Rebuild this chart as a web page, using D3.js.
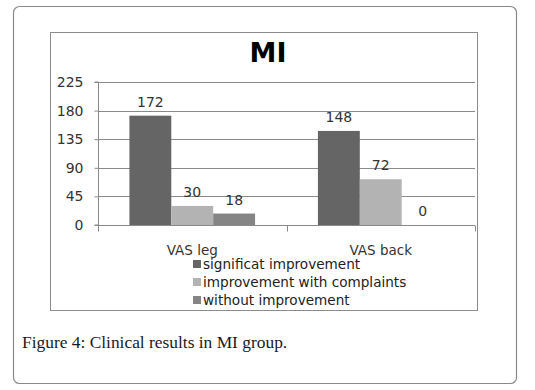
<!DOCTYPE html>
<html>
<head>
<meta charset="utf-8">
<script src="https://cdn.jsdelivr.net/npm/d3@7"></script>
<style>
  body { margin: 0; background: #fff; }
  svg { display: block; }
</style>
</head>
<body>
<svg id="chart" width="535" height="390"></svg>
<script>
const categories = ["VAS leg", "VAS back"];
const seriesNames = ["significat improvement", "improvement with complaints", "without improvement"];
const significant = [172, 148];
const withComplaints = [30, 72];
const without = [18, 0];
const yTicks = [0, 45, 90, 135, 180, 225];

const seriesValues = [significant, withComplaints, without];
const colors = ["#656565", "#b3b3b3", "#858585"];

const svg = d3.select("#chart");

// outer rounded frame
svg.append("rect")
    .attr("x", 13.5).attr("y", 6.5)
    .attr("width", 503).attr("height", 377)
    .attr("rx", 6)
    .attr("fill", "#fff")
    .attr("stroke", "#8a8a8a")
    .attr("stroke-width", 1.2);

// chart frame
svg.append("rect")
    .attr("x", 50.5).attr("y", 32.5)
    .attr("width", 427).attr("height", 278)
    .attr("fill", "#fff")
    .attr("stroke", "#8c8c8c");

svg.append("text")
    .attr("x", 268).attr("y", 62)
    .attr("text-anchor", "middle")
    .attr("font-family", "DejaVu Sans")
    .attr("font-weight", "bold")
    .attr("font-size", 27)
    .attr("fill", "#000")
    .text("MI");

const plotLeft = 98, plotRight = 475, plotTop = 82, plotBottom = 225;

const y = d3.scaleLinear().domain([0, 225]).range([plotBottom, plotTop]);
const x0 = d3.scaleBand().domain(categories).range([plotLeft, plotRight]);
const x1 = d3.scaleBand().domain(seriesNames).range([0, x0.bandwidth()]).paddingOuter(0.75);

// gridlines
svg.append("g")
    .selectAll("line")
    .data(yTicks.filter(d => d > 0))
    .join("line")
    .attr("x1", plotLeft).attr("x2", plotRight)
    .attr("y1", d => Math.round(y(d)) + 0.5)
    .attr("y2", d => Math.round(y(d)) + 0.5)
    .attr("stroke", "#8a8a8a");

// bars
const groups = svg.append("g")
    .selectAll("g")
    .data(categories)
    .join("g")
    .attr("transform", d => "translate(" + x0(d) + ",0)");

groups.selectAll("rect")
    .data((c, i) => seriesNames.map((s, j) => ({ s: s, v: seriesValues[j][i], j: j })))
    .join("rect")
    .attr("x", d => x1(d.s))
    .attr("width", x1.bandwidth())
    .attr("y", d => y(d.v))
    .attr("height", d => plotBottom - y(d.v))
    .attr("fill", d => colors[d.j]);

groups.selectAll("text")
    .data((c, i) => seriesNames.map((s, j) => ({ s: s, v: seriesValues[j][i] })))
    .join("text")
    .attr("x", d => x1(d.s) + x1.bandwidth() / 2)
    .attr("y", d => y(d.v) - 9)
    .attr("text-anchor", "middle")
    .attr("font-family", "DejaVu Sans")
    .attr("font-size", 14)
    .attr("fill", "#333")
    .text(d => d.v);

// y axis
const yAxis = svg.append("g")
    .attr("transform", "translate(" + (plotLeft + 0.5) + ",0)")
    .call(d3.axisLeft(y).tickValues(yTicks).tickSize(4).tickPadding(11));
yAxis.select(".domain").attr("stroke", "#8a8a8a").attr("d", "M-4," + plotTop + "H0V" + plotBottom + "H-4");
yAxis.selectAll(".tick line").attr("stroke", "#8a8a8a");
yAxis.selectAll(".tick text")
    .attr("font-family", "DejaVu Sans")
    .attr("font-size", 14)
    .attr("fill", "#333");

// x axis
const xAxis = svg.append("g")
    .attr("transform", "translate(0," + (plotBottom + 0.5) + ")");
xAxis.append("line")
    .attr("x1", plotLeft).attr("x2", plotRight)
    .attr("stroke", "#8a8a8a");
xAxis.selectAll(".tk")
    .data([plotLeft, x0(categories[1]), plotRight])
    .join("line")
    .attr("class", "tk")
    .attr("x1", d => Math.round(d) + 0.5).attr("x2", d => Math.round(d) + 0.5)
    .attr("y1", 0).attr("y2", 6)
    .attr("stroke", "#8a8a8a");
xAxis.selectAll("text")
    .data(categories)
    .join("text")
    .attr("x", d => x0(d) + x0.bandwidth() / 2)
    .attr("y", 29)
    .attr("text-anchor", "middle")
    .attr("font-family", "DejaVu Sans")
    .attr("font-size", 13.5)
    .attr("fill", "#333")
    .text(d => d);

// legend
const legend = svg.append("g")
    .selectAll("g")
    .data(seriesNames)
    .join("g")
    .attr("transform", (d, i) => "translate(193," + (264 + i * 18) + ")");
legend.append("rect")
    .attr("x", 0).attr("y", -4)
    .attr("width", 8).attr("height", 8)
    .attr("fill", (d, i) => colors[i]);
legend.append("text")
    .attr("x", 10).attr("y", 5)
    .attr("font-family", "DejaVu Sans")
    .attr("font-size", 13.6)
    .attr("fill", "#222")
    .text(d => d);

// caption
svg.append("text")
    .attr("x", 22).attr("y", 348)
    .attr("font-family", "Liberation Serif")
    .attr("font-size", 17.4)
    .attr("fill", "#1a1a24")
    .text("Figure 4: Clinical results in MI group.");
</script>
</body>
</html>
